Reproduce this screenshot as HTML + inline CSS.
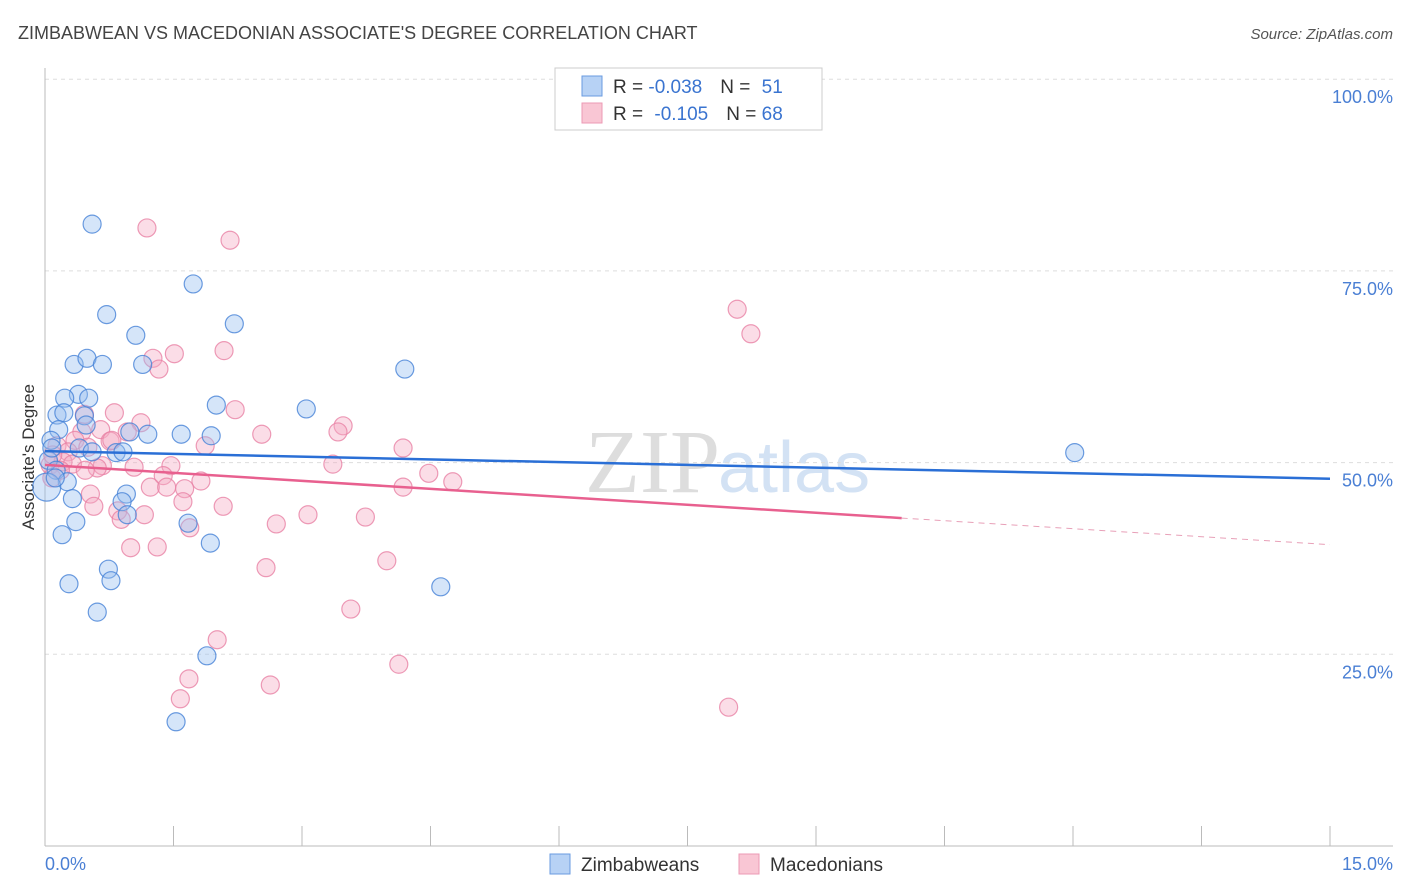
<!DOCTYPE html>
<html><head><meta charset="utf-8"><style>
body{margin:0;background:#fff;font-family:"Liberation Sans",sans-serif;}
svg{display:block}
</style></head><body>
<svg id="chart" width="1406" height="892">
<text x="18" y="39" font-size="18" fill="#444">ZIMBABWEAN VS MACEDONIAN ASSOCIATE'S DEGREE CORRELATION CHART</text>
<text x="1393" y="39" font-size="15" fill="#555" font-style="italic" text-anchor="end">Source: ZipAtlas.com</text>
<text x="720" y="492" font-size="90" fill="#ddd" text-anchor="end" font-family="Liberation Serif">ZIP</text>
<text x="718" y="492" font-size="72" fill="#d3e2f4">atlas</text>
<g id="grid"></g>
<line x1="45" y1="68" x2="45" y2="846" stroke="#bbb"/>
<line x1="45" y1="846" x2="1393" y2="846" stroke="#bbb"/>
<g id="xticks"></g>
<text x="34" y="457" font-size="17" fill="#333" text-anchor="middle" transform="rotate(-90 34 457)">Associate's Degree</text>
<text x="45" y="870" font-size="18" fill="#4a7fd4">0.0%</text>
<text x="1393" y="870" font-size="18" fill="#4a7fd4" text-anchor="end">15.0%</text>
<g id="pts"></g>
<g id="trend"></g>
<g>
<rect x="555" y="68" width="267" height="62" fill="#fff" stroke="#ccc"/>
<rect x="582" y="76" width="20" height="20" fill="#b7d2f5" stroke="#6a9be0"/>
<rect x="582" y="103" width="20" height="20" fill="#f9c6d4" stroke="#ec9ab4"/>
<text x="613" y="93" font-size="19" fill="#333">R = <tspan fill="#3a74d0">-0.038</tspan><tspan dx="18">N = </tspan><tspan fill="#3a74d0" dx="6">51</tspan></text>
<text x="613" y="120" font-size="19" fill="#333">R = <tspan fill="#3a74d0" dx="6">-0.105</tspan><tspan dx="18">N = </tspan><tspan fill="#3a74d0">68</tspan></text>
</g>
<g>
<rect x="550" y="854" width="20" height="20" fill="#b7d2f5" stroke="#6a9be0"/>
<text x="581" y="871" font-size="19" fill="#333">Zimbabweans</text>
<rect x="739" y="854" width="20" height="20" fill="#f9c6d4" stroke="#ec9ab4"/>
<text x="770" y="871" font-size="19" fill="#333">Macedonians</text>
</g>
</svg>
<script>
const yTicks=[100,75,50,25];
const xTickVals=[0,1.5,3,4.5,6,7.5,9,10.5,12,13.5,15];
const blueX=[0.55,1.73,0.72,2.21,1.06,0.34,0.49,0.67,1.14,4.20,0.39,0.23,0.51,2.00,3.05,0.14,0.22,0.46,0.16,1.20,1.59,1.94,0.48,0.99,0.07,0.40,0.55,0.83,0.91,12.02,0.04,0.08,0.13,0.26,0.95,0.90,0.32,0.96,0.36,1.67,0.20,1.93,0.74,0.77,0.28,4.62,0.61,1.89,1.53,0.02,0.12];
const blueY=[81.1,73.3,69.3,68.1,66.6,62.8,63.6,62.8,62.8,62.2,58.9,58.4,58.4,57.5,57.0,56.2,56.5,56.1,54.3,53.7,53.7,53.5,54.9,54.0,52.9,51.9,51.4,51.3,51.4,51.3,50.3,51.9,49.0,47.5,45.9,44.9,45.3,43.2,42.3,42.1,40.6,39.5,36.1,34.6,34.2,33.8,30.5,24.8,16.2,46.8,48.0];
const pinkX=[1.19,2.16,8.08,8.24,2.09,1.51,1.26,1.33,2.22,0.81,0.46,1.12,3.48,3.42,2.53,0.65,0.96,0.43,1.87,4.18,0.76,0.35,0.14,0.27,0.21,0.67,0.32,1.04,1.47,3.36,0.61,0.06,4.48,1.38,1.82,4.76,1.23,1.42,1.63,4.18,0.53,1.61,0.57,2.08,1.16,0.85,3.07,3.74,0.89,2.70,1.69,1.00,1.31,3.99,2.58,3.57,2.01,1.68,2.63,1.58,4.13,7.98,0.08,0.09,0.18,0.50,0.78,0.47];
const pinkY=[80.6,79.0,70.0,66.8,64.6,64.2,63.6,62.2,56.9,56.5,56.3,55.2,54.8,54.0,53.7,54.3,54.0,54.0,52.2,51.9,52.8,52.9,52.2,51.4,50.1,49.6,49.8,49.4,49.6,49.8,49.3,49.7,48.6,48.3,47.6,47.5,46.8,46.8,46.6,46.8,45.9,44.9,44.3,44.3,43.2,43.7,43.2,42.9,42.6,42.0,41.5,38.9,39.0,37.2,36.3,30.9,26.9,21.8,21.0,19.2,23.7,18.1,48.0,51.0,49.0,52.0,52.9,49.0];
const blueTrend=[51.5,47.9];
const pinkTrend=[49.7,39.3];
const pinkSolidEnd=10;
const NS="http://www.w3.org/2000/svg";
const xs=v=>45+v*(1285/15);
const ys=v=>846-v*7.668;
function mk(t,a,p){const e=document.createElementNS(NS,t);for(const k in a)e.setAttribute(k,a[k]);p.appendChild(e);return e;}
const grid=document.getElementById('grid');
yTicks.forEach(t=>{
 const l=mk('line',{x1:45,x2:1393,y1:ys(t),y2:ys(t),stroke:'#ddd','stroke-dasharray':'4,4'},grid);
 
 
 const tx=mk('text',{x:1393,y:ys(t)+24,'font-size':18,fill:'#4a7fd4','text-anchor':'end'},grid);
 tx.textContent=t.toFixed(1)+'%';
 
 
});
const xt=document.getElementById('xticks');
xTickVals.forEach(v=>{
 const l=mk('line',{x1:xs(v),x2:xs(v),y1:826,y2:846,stroke:'#bbb'},xt);
 
 
});
const pts=document.getElementById('pts');
pinkX.forEach((x,i)=>{
 const c=mk('circle',{cx:xs(x),cy:ys(pinkY[i]),r:9,fill:'rgba(244,170,195,0.4)',stroke:'rgba(232,130,165,0.8)','stroke-width':1.2},pts);
 
 
});
blueX.forEach((x,i)=>{
 const c=mk('circle',{cx:xs(x),cy:ys(blueY[i]),r:(i==49?14:9),fill:'rgba(150,190,240,0.4)',stroke:'rgba(70,130,215,0.8)','stroke-width':1.2},pts);
 
 
});
const tr=document.getElementById('trend');
const bl=mk('line',{x1:xs(0),y1:ys(blueTrend[0]),x2:xs(15),y2:ys(blueTrend[1]),stroke:'#2a6fd6','stroke-width':2.5},tr);


const pAt=x=>pinkTrend[0]+(pinkTrend[1]-pinkTrend[0])*x/15;
const pl=mk('line',{x1:xs(0),y1:ys(pAt(0)),x2:xs(pinkSolidEnd),y2:ys(pAt(pinkSolidEnd)),stroke:'#e8608f','stroke-width':2.5},tr);


const pd=mk('line',{x1:xs(pinkSolidEnd),y1:ys(pAt(pinkSolidEnd)),x2:xs(15),y2:ys(pAt(15)),stroke:'#e8a0b8','stroke-width':1,'stroke-dasharray':'6,5'},tr);


</script>
</body></html>
